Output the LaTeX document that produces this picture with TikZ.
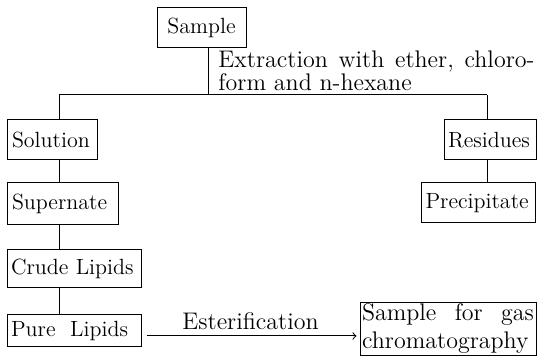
\documentclass[tikz,border=0pt]{standalone}
\usetikzlibrary{positioning}

\begin{document}
\begin{tikzpicture}[x=0.5pt,y=-0.5pt,line width=.5pt,
    font=\fontsize{11}{13.5}\selectfont,
    box/.style={draw,rectangle,inner xsep=2pt,inner ysep=1pt,
      minimum height=20pt,align=left},
    lbl/.style={draw=none,inner sep=0pt,align=left,
      font=\fontsize{12}{10.5}\selectfont}]
  \useasboundingbox (0,0) rectangle (537,357);

  \node[box,minimum width=44.5pt,align=center] (sample) at (201.5,28) {Sample};
  \node[box,text width=40.5pt] (solution) at (52.5,140) {Solution};
  \node[box,text width=42pt] (residues) at (490,140) {Residues};
  \node[box,text width=51pt,minimum height=21pt] (supernate) at (63,204) {Supernate};
  \node[box,text width=53pt] (precip) at (478.5,203) {Precipitate};
  \node[box,text width=63pt,minimum height=19pt] (crude) at (74,269) {Crude Lipids};
  \node[box,text width=63pt,minimum height=16pt] (pure) at (74,331) {Pure\ \ Lipids};
  \node[box,inner xsep=1pt,text width=86pt,minimum height=26pt,
    font=\fontsize{12}{14}\selectfont] (gas) at (448,329)
    {\hbox to 86pt{Sample\hfill for\hfill gas}\\chromatography};

  \node[lbl,anchor=north west] (extract) at (218,50)
    {\hbox to 158pt{Extraction\hfill with\hfill ether,\hfill chloro-}\\form and n-hexane};

  \coordinate (fork) at (208,95);
  \coordinate (lft) at (59,95);
  \coordinate (rgt) at (487,95);
  \draw (fork |- sample.south) -- (fork);
  \draw (lft) -- (rgt);
  \draw (lft) -- (lft |- solution.north);
  \draw (rgt) -- (rgt |- residues.north);
  \draw (rgt |- residues.south) -- (rgt |- precip.north);
  \foreach \a/\b in {solution/supernate,supernate/crude,crude/pure}
    \draw (lft |- \a.south) -- (lft |- \b.north);

  \draw[->,shorten <=2.5pt,shorten >=1.5pt] ([yshift=-2.5pt]pure.east)
    -- ([yshift=-2.5pt]pure.east -| gas.west)
    node[lbl,midway,above,inner ysep=3pt] (ester) {Esterification};
\end{tikzpicture}
\end{document}
